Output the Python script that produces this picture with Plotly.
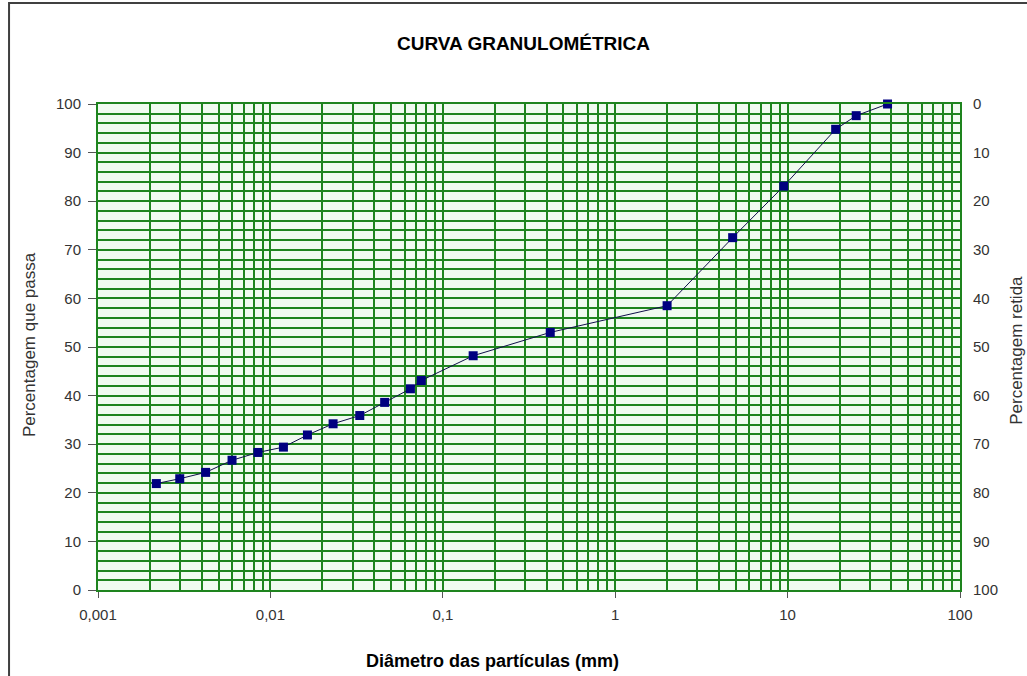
import plotly.graph_objects as go

# Data
diametro = [0.00218, 0.00298, 0.00421, 0.00599, 0.00847, 0.0119, 0.0164, 0.0231,
            0.033, 0.046, 0.0649, 0.075, 0.15, 0.42, 2.0, 4.8, 9.5, 19.0, 25.0, 38.0]
passa = [21.9, 22.9, 24.2, 26.7, 28.3, 29.4, 31.9, 34.2, 35.9, 38.6, 41.4, 43.1,
         48.2, 53.0, 58.5, 72.5, 83.1, 94.8, 97.6, 100.0]

x_tickvals = [0.001, 0.01, 0.1, 1, 10, 100]
x_ticktext = ["0,001", "0,01", "0,1", "1", "10", "100"]
x_minor = [m * d for d in [0.001, 0.01, 0.1, 1, 10] for m in range(2, 10)]
y_ticks = list(range(0, 101, 10))

GRID = "#1e841e"
FONT = "Liberation Sans, Arial, sans-serif"

fig = go.Figure()
fig.add_trace(go.Scatter(
    x=diametro, y=passa, mode="lines+markers",
    line=dict(color="#10104a", width=1),
    marker=dict(symbol="square", size=9, color="#000080"),
    cliponaxis=False,
    showlegend=False,
))
# invisible trace to activate the right axis
fig.add_trace(go.Scatter(x=[0.001], y=[0], yaxis="y2", mode="markers",
                         marker=dict(opacity=0), showlegend=False, hoverinfo="skip"))

fig.update_layout(
    width=1027, height=676,
    margin=dict(l=98, r=67, t=104, b=86),
    paper_bgcolor="white",
    plot_bgcolor="#f0fbf0",
    font=dict(family=FONT, size=15, color="#333333"),
    xaxis=dict(
        type="log", range=[-3, 2],
        tickvals=x_tickvals, ticktext=x_ticktext,
        showgrid=True, gridcolor=GRID, gridwidth=2,
        minor=dict(tickvals=x_minor, showgrid=True, gridcolor=GRID, gridwidth=2, ticks=""),
        ticks="outside", ticklen=6, tickcolor="#555555",
        showline=True, linecolor=GRID, linewidth=2, mirror=True,
        zeroline=False, ticklabelstandoff=4,
    ),
    yaxis=dict(
        range=[0, 100], tickvals=y_ticks,
        showgrid=True, gridcolor=GRID, gridwidth=2,
        minor=dict(dtick=2, showgrid=True, gridcolor=GRID, gridwidth=2, ticks=""),
        ticks="outside", ticklen=8, tickcolor="#555555",
        showline=True, linecolor=GRID, linewidth=2, mirror=True,
        zeroline=False, ticklabelstandoff=4,
    ),
    yaxis2=dict(
        range=[100, 0], tickvals=y_ticks, overlaying="y", side="right",
        showgrid=False, zeroline=False, ticks="", ticklabelstandoff=12,
    ),
    annotations=[
        dict(text="<b>CURVA GRANULOMÉTRICA</b>", xref="paper", yref="paper",
             x=0.494, y=1.1255, xanchor="center", yanchor="middle", showarrow=False,
             font=dict(family=FONT, size=19, color="#000000")),
        dict(text="Percentagem que passa", xref="paper", yref="paper",
             x=-0.080, y=0.504, xanchor="center", yanchor="middle", showarrow=False,
             textangle=-90, font=dict(family=FONT, size=17, color="#333333")),
        dict(text="Percentagem retida", xref="paper", yref="paper",
             x=1.066, y=0.494, xanchor="center", yanchor="middle", showarrow=False,
             textangle=-90, font=dict(family=FONT, size=17, color="#333333")),
        dict(text="<b>Diâmetro das partículas (mm)</b>", xref="paper", yref="paper",
             x=0.458, y=-0.146, xanchor="center", yanchor="middle", showarrow=False,
             font=dict(family=FONT, size=18, color="#000000")),
    ],
    shapes=[
        dict(type="rect", xref="paper", yref="paper",
             x0=-0.1032, y0=-0.4, x1=1.3, y1=1.208,
             line=dict(color="#404040", width=2), fillcolor="rgba(0,0,0,0)", layer="below"),
    ],
)

# remove the default 8px page margin so the figure sits at the window's top-left corner
fig.write_html(
    "out.html",
    config={"displayModeBar": False},
    post_script="document.body.style.margin='0';document.body.style.overflow='hidden';",
)
